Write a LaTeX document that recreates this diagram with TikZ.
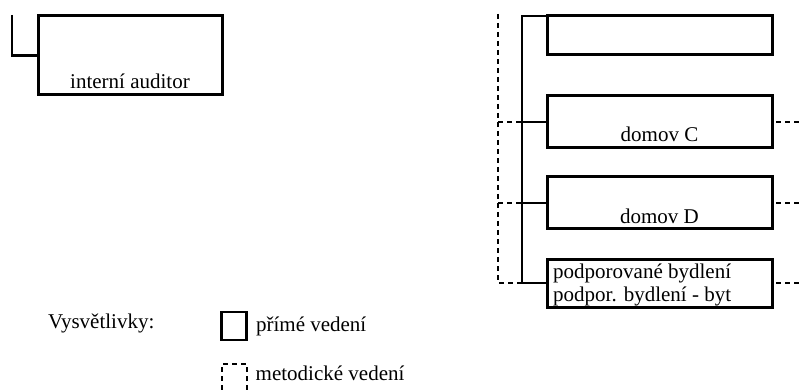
\documentclass[tikz,border=0pt]{standalone}
\usepackage{fontspec}
\setmainfont{Liberation Serif}
\usetikzlibrary{positioning}

\begin{document}
\begin{tikzpicture}[x=1pt, y=-1pt,
  unit/.style={draw, line width=3pt, inner sep=0pt, outer sep=0pt, minimum width=#1},
  lbl/.style={inner sep=0pt, font=\fontsize{21}{23}\selectfont},
  direct/.style={line width=2.6pt},
  methodic/.style={line width=2pt, dash pattern=on 5pt off 4pt}]

  \useasboundingbox (0,0) rectangle (803,390);

  % Internal auditor
  \node[unit=184pt, minimum height=79pt] (audit) at (130,55.5) {};
  \node[lbl, anchor=base] (auditLbl) at ([yshift=6pt]audit.south) {interní auditor};
  \coordinate (auditTop) at (12,15);
  \draw[direct] (auditTop) |- (audit.west);

  % Homes on the right
  \node[unit=225pt, minimum height=39pt] (top)  at (659.5,35.5) {};
  \node[unit=225pt, minimum height=52pt] (domC) at (659.5,122) {};
  \node[unit=225pt, minimum height=52pt] (domD) at (659.5,203) {};
  \node[unit=225pt, minimum height=48pt] (bydl) at (659.5,283) {};
  \node[lbl, anchor=base] (domCLbl) at ([yshift=6pt]domC.south) {domov C};
  \node[lbl, anchor=base] (domDLbl) at ([yshift=6pt]domD.south) {domov D};
  \node[lbl, anchor=north west, align=left] (bydlLbl)
    at ([xshift=6pt, yshift=-5pt]bydl.north west)
    {podporované bydlení\\podpor. bydlení - byt};

  % Direct management
  \coordinate (spine) at (522,16);
  \draw[direct] (top.north west) -- (spine) |- (bydl.west);
  \foreach \b in {domC, domD} {
    \draw[direct] (spine |- \b.west) -- (\b.west);
  }

  % Methodical management
  \coordinate (mspine) at (498,14);
  \coordinate (rim) at (803,0);
  \draw[methodic] (mspine) |- (spine |- bydl.west);
  \foreach \b in {domC, domD} {
    \draw[methodic] (mspine |- \b.west) -- (spine |- \b.west);
  }
  \foreach \b in {domC, domD, bydl} {
    \draw[methodic, dash phase=5pt] (\b.east) -- (rim |- \b.east);
  }

  % Legend
  \node[lbl, anchor=west] (keyTitle) at (48,323) {Vysvětlivky:};
  \node[draw, line width=2.8pt, minimum width=25pt, minimum height=28pt] (keyDirect) at (234,326) {};
  \node[lbl, right=8pt of keyDirect] (keyDirectLbl) {přímé vedení};
  \node[draw, line width=2pt, dash pattern=on 5pt off 4pt, minimum width=25pt, minimum height=28pt] (keyMethod) at (234,378) {};
  \node[lbl, right=8pt of keyMethod, yshift=5pt] (keyMethodLbl) {metodické vedení};

\end{tikzpicture}
\end{document}
